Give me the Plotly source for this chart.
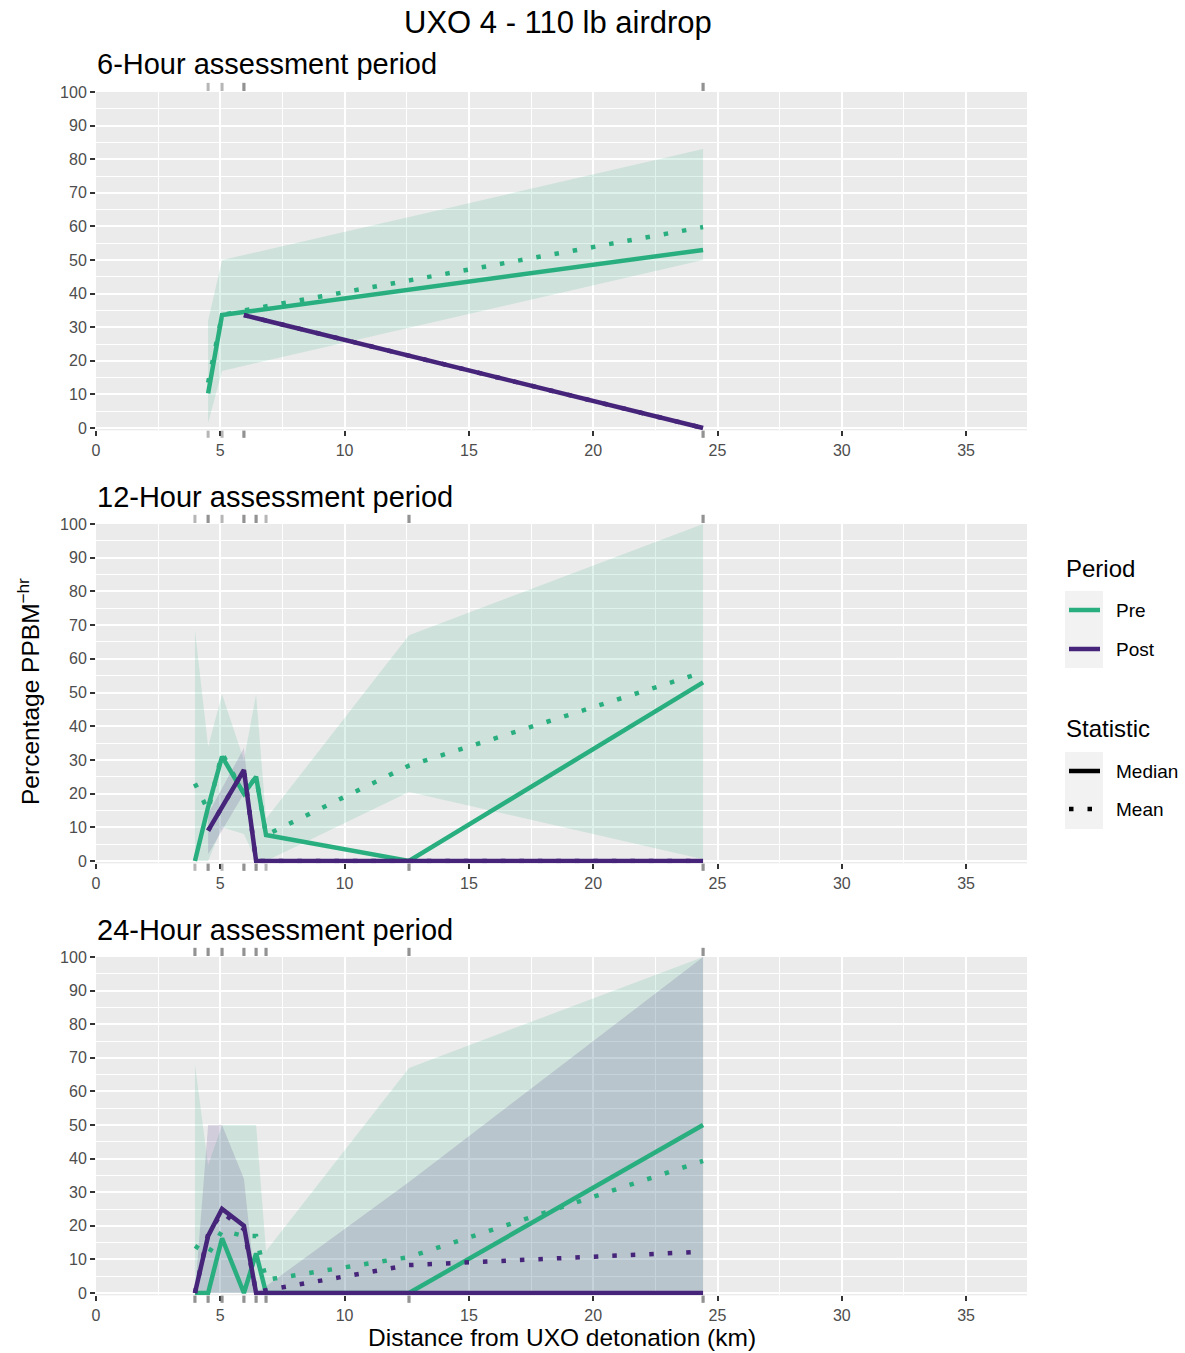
import plotly.graph_objects as go

W, H = 1185, 1353

# ---------------- data ----------------
PRE_COLOR = "#29AF7F"
POST_COLOR = "#46247A"

periods = ["6-Hour assessment period", "12-Hour assessment period", "24-Hour assessment period"]

# 6-hour
dist_6_pre = [4.51, 5.07, 5.95, 24.42]
pre_median_6 = [10.3, 33.6, 34.5, 53.0]
pre_mean_6 = [13.5, 33.6, 35.0, 59.8]
pre_lo_6 = [1.5, 17.0, 18.5, 50.0]
pre_hi_6 = [32.0, 50.0, 51.5, 83.0]
dist_6_post = [5.95, 24.42]
post_median_6 = [33.6, 0.0]
post_mean_6 = [33.6, 0.0]
post_lo_6 = [33.6, 0.0]
post_hi_6 = [33.6, 0.0]

# 12-hour
dist_12_pre = [3.98, 4.51, 5.07, 5.95, 6.44, 6.84, 12.59, 24.42]
pre_median_12 = [0.0, 16.0, 31.0, 20.0, 25.0, 7.7, 0.0, 53.0]
pre_mean_12 = [23.0, 15.0, 32.0, 20.0, 25.0, 7.7, 28.3, 56.0]
pre_lo_12 = [0.0, 0.0, 10.0, 8.0, 0.0, 0.0, 20.5, 0.5]
pre_hi_12 = [68.5, 34.0, 49.5, 30.0, 49.5, 12.5, 67.0, 100.0]
dist_12_post = [4.51, 5.95, 6.44, 12.59, 24.42]
post_median_12 = [9.0, 27.0, 0.0, 0.0, 0.0]
post_mean_12 = [9.0, 27.0, 0.0, 0.0, 0.0]
post_lo_12 = [2.0, 20.0, 0.0, 0.0, 0.0]
post_hi_12 = [14.0, 33.5, 0.0, 0.0, 0.0]

# 24-hour
dist_24_pre = [3.98, 4.51, 5.07, 5.95, 6.44, 6.84, 12.59, 24.42]
pre_median_24 = [0.0, 0.0, 16.3, 0.0, 11.8, 0.0, 0.0, 50.0]
pre_mean_24 = [14.0, 11.5, 18.5, 17.0, 17.0, 3.9, 10.7, 39.3]
pre_lo_24 = [0.0, 0.0, 0.0, 0.0, 0.0, 0.0, 0.0, 0.0]
pre_hi_24 = [68.0, 38.0, 50.0, 50.0, 50.0, 12.5, 67.0, 100.0]
dist_24_post = [3.98, 4.51, 5.07, 5.95, 6.44, 6.84, 12.59, 24.42]
post_median_24 = [0.0, 17.0, 25.0, 20.0, 0.0, 0.0, 0.0, 0.0]
post_mean_24 = [0.0, 17.5, 24.0, 19.0, 0.3, 0.8, 8.3, 12.3]
post_lo_24 = [0.0, 0.0, 0.0, 0.0, 0.0, 0.0, 0.0, 0.0]
post_hi_24 = [0.0, 50.0, 50.0, 34.0, 0.0, 2.0, 33.0, 100.0]

x_ticks = [0, 5, 10, 15, 20, 25, 30, 35]
y_ticks = [0, 10, 20, 30, 40, 50, 60, 70, 80, 90, 100]

panels = [
    dict(pre=(dist_6_pre, pre_median_6, pre_mean_6, pre_lo_6, pre_hi_6),
         post=(dist_6_post, post_median_6, post_mean_6, post_lo_6, post_hi_6)),
    dict(pre=(dist_12_pre, pre_median_12, pre_mean_12, pre_lo_12, pre_hi_12),
         post=(dist_12_post, post_median_12, post_mean_12, post_lo_12, post_hi_12)),
    dict(pre=(dist_24_pre, pre_median_24, pre_mean_24, pre_lo_24, pre_hi_24),
         post=(dist_24_post, post_median_24, post_mean_24, post_lo_24, post_hi_24)),
]

# ---------------- layout helpers ----------------
FONT = "Liberation Sans, Arial, sans-serif"
def pxx(x):
    return x / W
def pxy(y):
    return 1 - y / H

panel_px = [(92, 428), (524, 861), (957, 1293)]   # pixel rows of y=100 and y=0
title_px = [64, 497, 930]
x_left, x_right = 96, 1027
Y_LOW = -0.7          # small room below zero so lines at 0 are not half clipped
Y_PX_PER_UNIT = 3.36

LW = 4.5
DOT = "4.5px,14px"
RUG = "rgba(110,110,110,0.5)"
# rug extent as fractions of the panel height (outside the panel)
RUG_TOP = (1.003, 1.027)
RUG_BOT = (-0.001, -0.022)

def rgba(hexc, a):
    h = hexc.lstrip("#")
    r, g, b = int(h[0:2], 16), int(h[2:4], 16), int(h[4:6], 16)
    return f"rgba({r},{g},{b},{a})"

fig = go.Figure()
shapes = []

for i, p in enumerate(panels):
    xa = "x" if i == 0 else f"x{i+1}"
    ya = "y" if i == 0 else f"y{i+1}"
    # ribbons
    for key, col in (("pre", PRE_COLOR), ("post", POST_COLOR)):
        d, med, mean, lo, hi = p[key]
        fig.add_trace(go.Scatter(
            x=list(d) + list(d)[::-1], y=list(hi) + list(lo)[::-1],
            fill="toself", fillcolor=rgba(col, 0.15), line=dict(width=0),
            mode="lines", hoverinfo="skip", showlegend=False, xaxis=xa, yaxis=ya,
            cliponaxis=False))
    # lines
    for key, col in (("pre", PRE_COLOR), ("post", POST_COLOR)):
        d, med, mean, lo, hi = p[key]
        fig.add_trace(go.Scatter(x=d, y=med, mode="lines",
                                 line=dict(color=col, width=LW), showlegend=False,
                                 xaxis=xa, yaxis=ya, cliponaxis=False))
        fig.add_trace(go.Scatter(x=d, y=mean, mode="lines",
                                 line=dict(color=col, width=LW, dash=DOT), showlegend=False,
                                 xaxis=xa, yaxis=ya, cliponaxis=False))
    # rugs: short ticks at each distance, just outside top and bottom of the panel
    for key in ("pre", "post"):
        for v in p[key][0]:
            for (y0, y1) in (RUG_TOP, RUG_BOT):
                shapes.append(dict(type="line", xref=xa, yref=f"{ya} domain",
                                   x0=v, x1=v, y0=y0, y1=y1,
                                   line=dict(width=3, color=RUG), layer="above"))

    top, bot = panel_px[i]
    bot_ext = bot + (-Y_LOW) * Y_PX_PER_UNIT
    axis_common = dict(showline=False, zeroline=False, ticks="outside", ticklen=5,
                       tickwidth=1.5, tickcolor="#333333",
                       tickfont=dict(size=16, color="#4D4D4D", family=FONT),
                       showgrid=True, gridcolor="white", gridwidth=2)
    fig.update_layout(**{
        ("xaxis" if i == 0 else f"xaxis{i+1}"): dict(
            domain=[pxx(x_left), pxx(x_right)], range=[0, 37.45], anchor=ya,
            tickvals=x_ticks, ticktext=[str(v) for v in x_ticks],
            minor=dict(tick0=0, dtick=2.5, showgrid=True, gridcolor="white", gridwidth=1.2),
            **axis_common),
        ("yaxis" if i == 0 else f"yaxis{i+1}"): dict(
            domain=[pxy(bot_ext), pxy(top)], range=[Y_LOW, 100], anchor=xa,
            tickvals=y_ticks, ticktext=[str(v) for v in y_ticks],
            minor=dict(tick0=0, dtick=5, showgrid=True, gridcolor="white", gridwidth=1.2),
            **axis_common),
    })

annotations = []
# main title
annotations.append(dict(text="UXO 4 - 110 lb airdrop", x=pxx(558), y=pxy(23), xref="paper", yref="paper",
                        xanchor="center", yanchor="middle", showarrow=False,
                        font=dict(size=31, color="black", family=FONT)))
for i, t in enumerate(periods):
    annotations.append(dict(text=t, x=pxx(95), y=pxy(title_px[i]), xref="paper", yref="paper",
                            xanchor="left", yanchor="middle", showarrow=False,
                            font=dict(size=29, color="black", family=FONT)))
# axis titles
annotations.append(dict(text="Distance from UXO detonation (km)", x=pxx(562), y=pxy(1337),
                        xref="paper", yref="paper", xanchor="center", yanchor="middle",
                        showarrow=False, font=dict(size=24.5, color="black", family=FONT)))
annotations.append(dict(text="Percentage PPBM<sup>\u2212hr</sup>", x=pxx(28), y=pxy(692),
                        xref="paper", yref="paper", xanchor="center", yanchor="middle",
                        textangle=-90, showarrow=False,
                        font=dict(size=24.5, color="black", family=FONT)))

# legend (manual)
legend_groups = [
    ("Period", 568, [("Pre", PRE_COLOR, None, 610), ("Post", POST_COLOR, None, 649)], (591, 668)),
    ("Statistic", 728, [("Median", "black", None, 771), ("Mean", "black", DOT, 809)], (752, 829)),
]
for title, ty, items, (by0, by1) in legend_groups:
    annotations.append(dict(text=title, x=pxx(1064), y=pxy(ty), xref="paper", yref="paper",
                            xanchor="left", yanchor="middle", showarrow=False,
                            font=dict(size=24, color="black", family=FONT)))
    shapes.append(dict(type="rect", xref="paper", yref="paper",
                       x0=pxx(1065), x1=pxx(1103), y0=pxy(by1), y1=pxy(by0),
                       fillcolor="#F2F2F2", line=dict(width=0), layer="below"))
    for label, col, dash, iy in items:
        ln = dict(color=col, width=LW)
        if dash:
            ln["dash"] = dash
        shapes.append(dict(type="line", xref="paper", yref="paper",
                           x0=pxx(1069), x1=pxx(1100), y0=pxy(iy), y1=pxy(iy), line=ln))
        annotations.append(dict(text=label, x=pxx(1114), y=pxy(iy), xref="paper", yref="paper",
                                xanchor="left", yanchor="middle", showarrow=False,
                                font=dict(size=19, color="black", family=FONT)))

fig.update_layout(
    width=W, height=H, margin=dict(l=0, r=0, t=0, b=0, pad=0, autoexpand=False),
    paper_bgcolor="white", plot_bgcolor="#EBEBEB",
    showlegend=False, annotations=annotations, shapes=shapes,
    font=dict(family=FONT), hovermode=False,
)

# remove the default 8px page margin so the figure fills the window exactly
fig.write_html("out.html", config={"displayModeBar": False},
               post_script="document.body.style.margin='0px';")
